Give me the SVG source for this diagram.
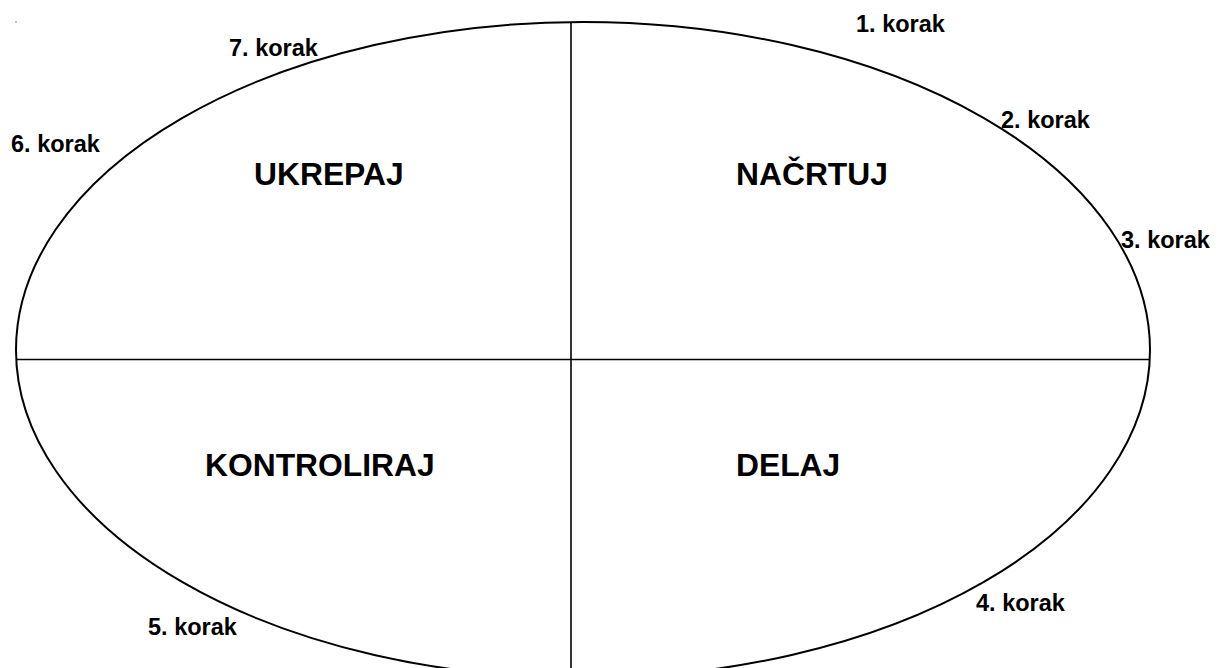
<svg xmlns="http://www.w3.org/2000/svg" width="1223" height="668" viewBox="0 0 1223 668">
<style>
.big{font-family:"Liberation Sans",Arial,sans-serif;font-weight:bold;font-size:31.8px;fill:#000}
.step{font-family:"Liberation Sans",Arial,sans-serif;font-weight:bold;font-size:23.5px;fill:#000}
.edge{stroke:#000;stroke-width:1.6;fill:none}
</style>
<rect width="1223" height="668" fill="#fff"/>
<g id="outline">
<ellipse cx="583" cy="350" rx="567" ry="328" fill="none" stroke="#000" stroke-width="2"/>
</g>
<g id="connectors">
<line class="edge" x1="571" y1="22" x2="571" y2="668"/>
<line class="edge" x1="16" y1="359.5" x2="1150" y2="359.5"/>
</g>
<rect x="15.5" y="21" width="1" height="2" fill="#888"/>
<g id="ukrepaj"><text class="big" x="254" y="185">UKREPAJ</text></g>
<g id="nacrtuj"><text class="big" x="736" y="185">NAČRTUJ</text></g>
<g id="kontroliraj"><text class="big" x="205" y="476">KONTROLIRAJ</text></g>
<g id="delaj"><text class="big" x="736" y="476">DELAJ</text></g>
<g id="step1"><text class="step" x="856" y="32">1. korak</text></g>
<g id="step2"><text class="step" x="1001" y="128">2. korak</text></g>
<g id="step3"><text class="step" x="1121" y="248">3. korak</text></g>
<g id="step4"><text class="step" x="976" y="611">4. korak</text></g>
<g id="step5"><text class="step" x="148" y="635">5. korak</text></g>
<g id="step6"><text class="step" x="11" y="152">6. korak</text></g>
<g id="step7"><text class="step" x="229" y="56">7. korak</text></g>
</svg>
